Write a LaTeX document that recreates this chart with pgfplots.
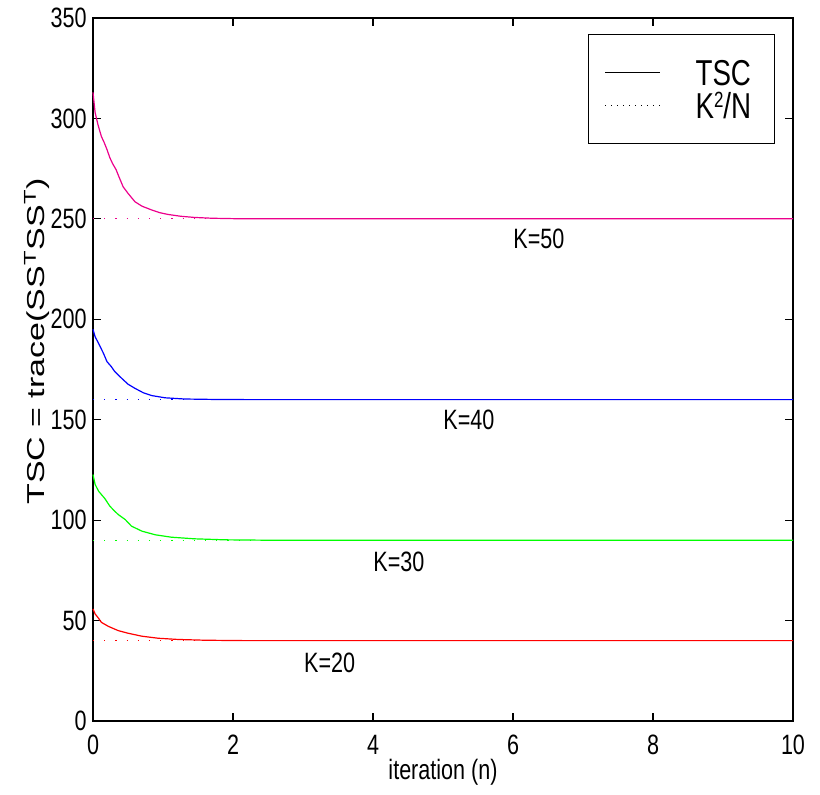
\documentclass[border=0pt]{standalone}
\usepackage{graphicx}
\usepackage{fontspec}
\setmainfont[FakeStretch=0.77]{Liberation Sans}
\newfontfamily\ylabfont{Liberation Sans}
\usepackage{pgfplots}
\pgfplotsset{compat=1.18}

\newcommand{\tickfont}{\fontsize{14}{16}\selectfont}
\newcommand{\legfont}{\fontsize{18}{20}\selectfont}

\begin{document}
\begin{tikzpicture}
  \path[use as bounding box] (-46.5pt,-37pt) rectangle (363.5pt,360.5pt);
  \begin{axis}[
      width=350pt, height=351.5pt,
      scale only axis,
      xmin=0, xmax=10,
      ymin=0, ymax=350,
      xtick={0,2,4,6,8,10},
      ytick={0,50,100,150,200,250,300,350},
      tick align=inside,
      xtick pos=both, ytick pos=both,
      xticklabel pos=lower, yticklabel pos=left,
      major tick length=3.8pt,
      tick style={black, line width=0.6pt},
      axis line style={line width=1pt},
      /pgf/number format/assume math mode=true,
      ticklabel style={font=\tickfont},
      xticklabel style={anchor=north, inner sep=0pt, yshift=-7pt},
      yticklabel style={anchor=east, inner sep=0pt, xshift=-3pt},
      xlabel={iteration (n)},
      xlabel style={font=\tickfont, at={(axis description cs:0.5,0)},
        anchor=center, yshift=-25.5pt},
      ylabel={\scalebox{1}[0.72]{\ylabfont\fontsize{17}{19}\selectfont TSC = trace(SS\textsuperscript{T}SS\textsuperscript{T})}},
      ylabel style={at={(axis description cs:-0.08,0.54)}, anchor=center},
      legend style={draw=black, line width=0.6pt, fill=white,
        at={(0.974,0.977)}, anchor=north east,
        font=\legfont, inner xsep=8pt, inner ysep=12.5pt, row sep=3.5pt,
        nodes={inner sep=0pt, text height=13pt, text depth=0pt},
        /tikz/every odd column/.append style={column sep=17.5pt}},
      legend cell align=left,
      legend image code/.code={\draw[#1, line width=0.5pt] (0pt,0pt) -- (27.5pt,0pt);},
      clip=false
    ]
    \addlegendimage{black, solid}
    \addlegendentry{TSC}
    \addlegendimage{black, dash pattern=on 0.5pt off 2.5pt}
    \addlegendentry{K\raisebox{5.5pt}{\fontsize{11}{11}\selectfont 2}/N\hspace*{3.5pt}}

    % K^2/N levels
    \addplot[forget plot, magenta, line width=0.6pt, dash pattern=on 0.6pt off 5pt] coordinates {(0,250) (10,250)};
    \addplot[forget plot, blue, line width=0.6pt, dash pattern=on 0.6pt off 5pt] coordinates {(0,160) (10,160)};
    \addplot[forget plot, green, line width=0.6pt, dash pattern=on 0.6pt off 5pt] coordinates {(0,90) (10,90)};
    \addplot[forget plot, red, line width=0.6pt, dash pattern=on 0.6pt off 5pt] coordinates {(0,40) (10,40)};

    % TSC curves
    \addplot[forget plot, magenta, line width=0.6pt] coordinates {
      (0,313) (0.03,303) (0.07,297) (0.12,291) (0.16,288) (0.2,284.5)
      (0.24,280.5) (0.28,277.5) (0.33,274.5) (0.37,271) (0.43,266) (0.5,262.7)
      (0.6,258.5) (0.7,256.3) (0.84,254.4) (0.95,253.1) (1.07,252.2) (1.25,251.3)
      (1.45,250.7) (1.7,250.3) (2.0,250.1) (2.5,250) (10,250)};
    \addplot[forget plot, blue, line width=0.6pt] coordinates {
      (0,195) (0.03,191.3) (0.08,188) (0.15,183) (0.2,178.9) (0.26,176.5)
      (0.31,174) (0.41,170.6) (0.5,167.7) (0.6,165.6) (0.72,163.4) (0.84,162)
      (1.03,160.9) (1.31,160.3) (1.7,160.1) (2.2,160) (10,160)};
    \addplot[forget plot, green, line width=0.6pt] coordinates {
      (0,122.7) (0.03,117.8) (0.08,114.4) (0.17,110.7) (0.24,107) (0.3,104.8)
      (0.36,102.8) (0.46,100.3) (0.55,97) (0.7,94.5) (0.89,92.7) (1.12,91.5)
      (1.45,90.7) (1.88,90.2) (2.5,90) (10,90)};
    \addplot[forget plot, red, line width=0.6pt] coordinates {
      (0,55.8) (0.03,53.3) (0.08,51.1) (0.12,49.1) (0.22,47.1) (0.36,45)
      (0.5,43.7) (0.7,42.2) (0.93,41.2) (1.21,40.6) (1.6,40.2) (2.2,40) (10,40)};

    \node[font=\tickfont, inner sep=0pt] at (axis cs:6.37,239.8) {K=50};
    \node[font=\tickfont, inner sep=0pt] at (axis cs:5.37,149.7) {K=40};
    \node[font=\tickfont, inner sep=0pt] at (axis cs:4.37,79.3) {K=30};
    \node[font=\tickfont, inner sep=0pt] at (axis cs:3.38,29.0) {K=20};
  \end{axis}
\end{tikzpicture}
\end{document}
